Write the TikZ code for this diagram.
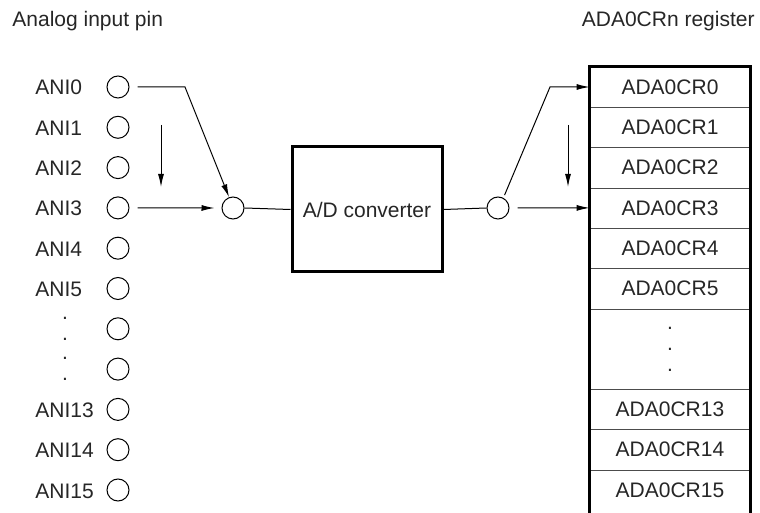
\documentclass[tikz,border=0pt]{standalone}
\usepackage{fontspec}
\setmainfont{Liberation Sans}
\usetikzlibrary{arrows.meta}

\begin{document}
\begin{tikzpicture}[
  x=0.5bp, y=-0.5bp,
  font=\fontsize{10.5bp}{10.5bp}\selectfont,
  pin/.style={draw, circle, minimum size=11bp, inner sep=0pt, line width=0.5bp},
  pinlbl/.style={anchor=base west, inner sep=0pt, text=black!85},
  cell/.style={minimum width=80bp, minimum height=20.15bp, inner sep=0pt, text=black!85},
  conv/.style={draw, line width=1.5bp, minimum width=75bp, minimum height=62.5bp, inner sep=0pt, text=black!85},
  dotcol/.style={align=center, inner sep=0pt, text=black!85},
  sep/.style={draw=black!70, line width=0.5bp},
  frame/.style={line width=1.5bp},
  wire/.style={line width=0.5bp},
  arr/.style={-{Latex[length=6.5bp,width=3bp]}, line width=0.5bp}
]
\useasboundingbox (0,0) rectangle (760,513);

% headers
\node[anchor=base west, inner sep=0pt, text=black!85] (hdrL) at (12,27) {Analog input pin};
\node[anchor=base east, inner sep=0pt, text=black!85] (hdrR) at (755,27) {ADA0CRn register};

% analog input pins
\foreach \k in {0,...,10}
  \node[pin] (p\k) at (118,{87+40.3*\k}) {};
\foreach \k/\t in {0/ANI0,1/ANI1,2/ANI2,3/ANI3,4/ANI4,5/ANI5,8/ANI13,9/ANI14,10/ANI15}
  \node[pinlbl] (l\k) at (35,{95+40.3*\k}) {\t};
\node[dotcol] (ld6) at (65,{87+40.3*6}) {.\\.};
\node[dotcol] (ld7) at (65,{87+40.3*7}) {.\\.};

% selector, converter, distributor
\node[pin] (mux) at (233,208) {};
\node[conv] (adc) at (367,209.5) {A/D converter};
\node[pin] (demux) at (498,208) {};

% result registers
\foreach \r/\t in {0/ADA0CR0,1/ADA0CR1,2/ADA0CR2,3/ADA0CR3,4/ADA0CR4,5/ADA0CR5,8/ADA0CR13,9/ADA0CR14,10/ADA0CR15}
  \node[cell] (c\r) at (670,{87+40.3*\r}) {\t};
\node[cell, minimum height=40.3bp, dotcol] (cd) at (670,{67+40.3*7}) {.\\.\\.};
\foreach \c in {c0,c1,c2,c3,c4,c5,cd,c8,c9}
  \draw[sep] (\c.south west) -- (\c.south east);
\draw[frame] ([yshift=-3bp]c10.south west) -- (c0.north west) -- (c0.north east) -- ([yshift=-3bp]c10.south east);

% connectors
\coordinate (bendL) at (185,87);
\coordinate (scanLa) at (161,125);
\coordinate (scanLb) at (161,187);
\coordinate (bendR) at (550,87);
\coordinate (scanRa) at (568,125);
\coordinate (scanRb) at (568,187);

\draw[arr] ([xshift=4bp]p0.east) -- (bendL) -- (mux.110);
\draw[arr] (scanLa) -- (scanLb);
\draw[arr] ([xshift=4bp]p3.east) -- ([xshift=-3.5bp]mux.west);
\draw[wire] (mux.east) -- (adc.west);
\draw[wire] (adc.east) -- (demux.west);
\draw[arr, shorten <=1.5bp] (demux.62) -- (bendR) -- (c0.west);
\draw[arr] (scanRa) -- (scanRb);
\draw[arr] ([xshift=4bp]demux.east) -- (c3.west);
\end{tikzpicture}
\end{document}
